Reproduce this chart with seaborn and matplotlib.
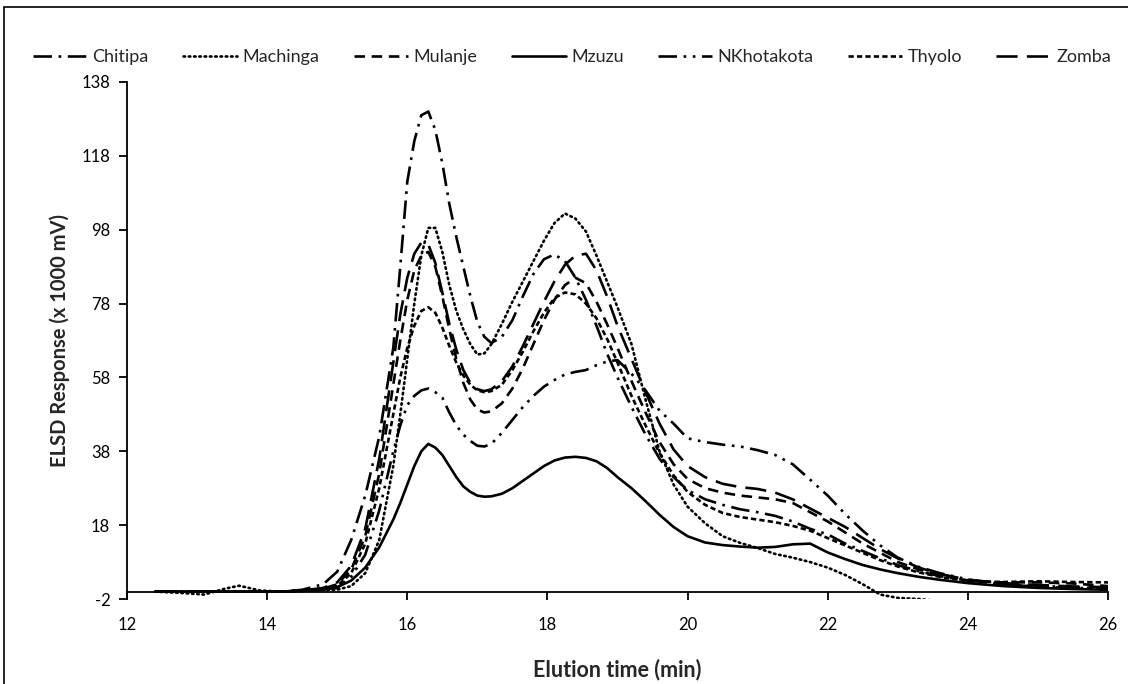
import matplotlib
matplotlib.use("Agg")
import matplotlib.pyplot as plt
from matplotlib.patches import Rectangle
import seaborn as sns
import pandas as pd

# Elution time grid (min)
time = [12.4, 12.8, 13.1, 13.4, 13.6, 13.9, 14.2, 14.5, 14.8, 15.0, 15.2, 15.4, 15.6,
        15.8, 15.9, 16.0, 16.1, 16.2, 16.3, 16.4, 16.5, 16.6, 16.7, 16.8, 16.9, 17.0,
        17.1, 17.2, 17.35, 17.5, 17.65, 17.8, 17.95, 18.1, 18.25, 18.4, 18.55, 18.7,
        18.85, 19.0, 19.2, 19.4, 19.6, 19.8, 20.0, 20.25, 20.5, 20.75, 21.0, 21.25,
        21.5, 21.75, 22.0, 22.25, 22.5, 22.75, 23.0, 23.3, 23.6, 24.0, 24.5, 25.0,
        25.5, 26.0]

# ELSD response (x 1000 mV) per district
chitipa = [0, 0, 0, 0, 0, 0, 0, 0.5, 2, 5.4, 14, 26, 42,
           66, 88, 111, 122, 129, 130, 125, 116, 105, 96, 88, 80, 73,
           69, 67.3, 69, 73.5, 80, 86, 90, 91.3, 89.5, 85, 79, 72,
           64.5, 58, 50, 42.5, 36, 31, 27.5, 25, 23.5, 22.3, 21.5, 20.5,
           19, 17, 15.5, 13, 11, 9, 7.2, 5.5, 4.2, 3, 2, 1.5,
           1.2, 0.8]
machinga = [0, -0.4, -0.8, 0.8, 1.6, 0.3, 0, 0.2, 0.4, 0.5, 1.5, 5, 14,
            34, 48, 63, 78, 91, 98.5, 98.5, 92, 83, 76, 71, 67, 64.2,
            64.5, 67, 72.5, 78.5, 84, 89.5, 95, 99.8, 102.4, 101, 97.5, 91,
            84, 77, 67, 52, 38, 29, 23, 18.5, 15, 13.2, 11.8, 10.2,
            9.2, 8, 6.5, 4.5, 2, -0.8, -1.7, -2.0, -2.6, -3, -3, -3,
            -3, -3]
mulanje = [0, 0, 0, 0, 0, 0, 0, 0.3, 0.8, 2, 6, 15, 32,
           56, 68, 79, 87, 91, 92, 88, 80, 71, 63, 56.5, 52, 49.3,
           48.5, 48.8, 51, 55, 60.5, 67, 73.5, 79, 83, 85, 83.5, 78.5,
           72.5, 66, 57, 48.5, 40.5, 34.5, 30.5, 28, 26.8, 26, 25.5, 25,
           24, 21.5, 19, 16, 13, 10.5, 8, 6, 4.5, 3, 2.5, 2.5,
           2.2, 1.5]
mzuzu = [0, 0, 0, 0, 0, 0, 0, 0.2, 0.5, 1.2, 3, 6.5, 12,
         19.5, 24, 29, 34, 38, 40, 39, 37, 34, 31, 28.5, 27, 26,
         25.7, 25.8, 26.5, 28, 30, 32, 34, 35.5, 36.3, 36.5, 36.2, 35.3,
         33.5, 31, 28, 24.5, 20.8, 17.5, 15, 13.3, 12.6, 12.2, 11.9, 12.1,
         12.8, 13.0, 10.6, 8.8, 7.2, 6.0, 5.0, 4.0, 3.2, 2.3, 1.5, 1.0,
         0.7, 0.5]
nkhotakota = [0, 0, 0, 0, 0, 0, 0, 0.3, 0.6, 1, 4, 10, 22,
              38, 45, 50.5, 53, 54.5, 55, 54, 52.5, 48.5, 45, 42.5, 40.8, 39.5,
              39.3, 40, 43, 46.5, 50, 53, 55.5, 57.3, 58.8, 59.5, 60, 61.3,
              62.3, 62.7, 59, 54.5, 49, 45.5, 41.5, 40.5, 39.8, 39.3, 38.3, 37,
              34.5, 30.3, 26, 21, 16.5, 12.5, 9.2, 6.7, 5, 3.3, 2, 1.3,
              1.0, 0.8]
thyolo = [0, 0, 0, 0, 0, 0, 0, 0.2, 0.6, 1.5, 5, 13, 28,
          48, 58, 66, 72, 76, 77, 75.5, 71.5, 66.5, 62, 58.5, 56, 54.5,
          54, 54.3, 56, 60, 65, 70.5, 75.5, 79.5, 81, 80.5, 78, 74,
          68.5, 62, 53, 45, 37.5, 31.5, 27, 23.5, 21.3, 20.2, 19.5, 18.8,
          17.8, 16.5, 14.5, 12.5, 10.5, 8.5, 6.8, 5.2, 4, 2.8, 2.6, 2.8,
          2.6, 2.5]
zomba = [0, 0, 0, 0, 0, 0, 0, 0.3, 1, 2.5, 7, 17, 36,
         62, 75, 85, 91.5, 94.5, 94, 89, 81, 72.5, 65.5, 60, 56.5, 54.8,
         54.3, 54.8, 57, 61, 66.5, 72.5, 78.5, 84, 88.5, 91, 91.5, 87,
         80, 72, 63, 54, 45.5, 38.5, 34, 31, 29.2, 28.3, 27.8, 26.8,
         25, 22.5, 20, 17.5, 14.5, 11.5, 9, 6.5, 4.8, 3.2, 2.3, 1.8,
         1.4, 1.2]

districts = ["Chitipa", "Machinga", "Mulanje", "Mzuzu", "NKhotakota", "Thyolo", "Zomba"]
responses = [chitipa, machinga, mulanje, mzuzu, nkhotakota, thyolo, zomba]
x_ticks = [12, 14, 16, 18, 20, 22, 24, 26]
y_ticks = [-2, 18, 38, 58, 78, 98, 118, 138]

line_styles = {
    "Chitipa": (0, (7, 2.5, 1, 2.5)),
    "Machinga": (0, (0.6, 1.4)),
    "Mulanje": (0, (4, 2.5)),
    "Mzuzu": "solid",
    "NKhotakota": (0, (7, 2.5, 1, 2.5, 1, 2.5)),
    "Thyolo": (0, (2, 1.2)),
    "Zomba": (0, (8, 3.5)),
}

df = pd.DataFrame({name: vals for name, vals in zip(districts, responses)})
df["time"] = time

sns.set_theme(style="white")
plt.rcParams["font.family"] = ["Lato", "DejaVu Sans"]

fig = plt.figure(figsize=(11.28, 6.84), dpi=100)
ax = fig.add_axes([127 / 1128, 85 / 684, 981 / 1128, 517 / 684])

for name in districts:
    cap = "round" if name == "Machinga" else "butt"
    sns.lineplot(data=df, x="time", y=name, ax=ax, color="black", lw=1.9,
                 linestyle=line_styles[name], label=name, legend=False,
                 dash_capstyle=cap)

ax.set_xlim(12, 26)
ax.set_ylim(-2, 138)
ax.set_xticks(x_ticks)
ax.set_yticks(y_ticks)
ax.set_xticklabels([str(v) for v in x_ticks])
ax.set_yticklabels([str(v) for v in y_ticks])

for side in ("top", "right"):
    ax.spines[side].set_visible(False)
ax.spines["bottom"].set_position(("data", 0))
for side in ("left", "bottom"):
    ax.spines[side].set_color("black")
    ax.spines[side].set_linewidth(1.3)

ax.tick_params(axis="both", which="major", direction="out", length=6, width=1.3,
               color="black", labelsize=12, labelcolor="black")
ax.tick_params(axis="x", pad=12)
ax.tick_params(axis="y", pad=6, left=True)
ax.tick_params(axis="x", bottom=True)

ax.set_xlabel("Elution time (min)", fontsize=15.5, fontweight="bold")
ax.set_ylabel("ELSD Response (x 1000 mV)", fontsize=14.5, fontweight="bold", labelpad=8)
ax.xaxis.set_label_coords(0.5, -0.115)

handles, labels = ax.get_legend_handles_labels()
fig.legend(handles, labels, loc="center", bbox_to_anchor=(0.507, 1 - 57 / 684),
           ncol=7, frameon=False, fontsize=13, handlelength=3.0,
           columnspacing=1.9, handletextpad=0.3)

fig.patches.append(Rectangle((4 / 1128, -0.2), 1.2, 1.2 - 7 / 684, fill=False,
                             edgecolor="black", lw=1.2, transform=fig.transFigure,
                             figure=fig))

fig.savefig("out.png", dpi=100)
